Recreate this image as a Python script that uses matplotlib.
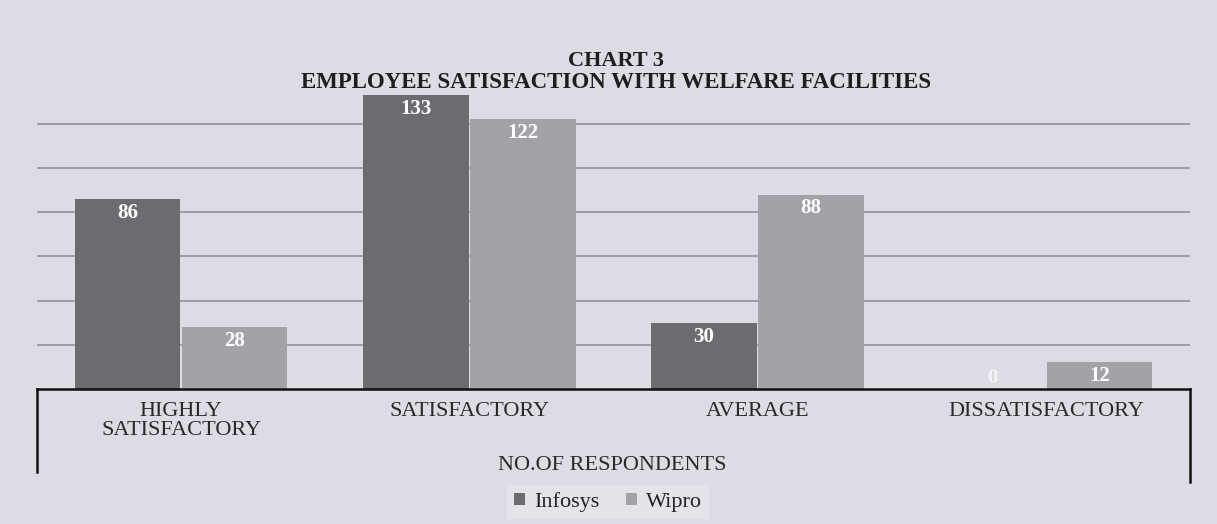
import matplotlib
matplotlib.use("Agg")
import matplotlib.pyplot as plt
from matplotlib.lines import Line2D
import numpy as np

categories = ["HIGHLY\nSATISFACTORY", "SATISFACTORY", "AVERAGE", "DISSATISFACTORY"]
infosys = [86, 133, 30, 0]
wipro = [28, 122, 88, 12]
series_names = ["Infosys", "Wipro"]

W, H = 1217, 524
plt.rcParams['font.family'] = ['Liberation Serif', 'DejaVu Serif']

bg = '#dcdce4'
c_inf = '#6b6b70'
c_wip = '#a2a2a8'

fig = plt.figure(figsize=(W / 100, H / 100), dpi=100, facecolor=bg)

def fx(px):
    return px / W

def fy(py):
    return 1 - py / H

left, right = 37, 1190
base, top_px = 389, 389 - 2.21 * 140
ax = fig.add_axes([fx(left), fy(base), fx(right - left), (base - top_px) / H])
ax.set_facecolor('none')

x = np.arange(len(categories))
bw = 0.366
off = 0.186
b1 = ax.bar(x - off, infosys, bw, color=c_inf, label=series_names[0], zorder=3)
b2 = ax.bar(x + off, wipro, bw, color=c_wip, label=series_names[1], zorder=3)

ax.set_xlim(-0.5, len(categories) - 0.5)
ax.set_ylim(0, 140)
ax.set_yticks([20, 40, 60, 80, 100, 120])
ax.yaxis.grid(True, color='#8c8c94', linewidth=1.1, zorder=1)
ax.tick_params(axis='y', left=False, labelleft=False)
for s in ['top', 'right', 'left']:
    ax.spines[s].set_visible(False)
ax.spines['bottom'].set_color('#111111')
ax.spines['bottom'].set_linewidth(1.8)
ax.spines['bottom'].set_zorder(4)

ax.set_xticks(x)
ax.set_xticklabels(categories, fontsize=16, color='#2a2a2a', linespacing=1.02)
ax.tick_params(axis='x', length=0, pad=9)

for bars, vals in ((b1, infosys), (b2, wipro)):
    for rect, v in zip(bars, vals):
        cx = rect.get_x() + rect.get_width() / 2
        if v >= 10:
            ax.annotate(str(v), (cx, v), xytext=(0, -10), textcoords='offset points',
                        ha='center', va='center', color='white', fontsize=15,
                        fontweight='bold', zorder=5)
        else:
            ax.annotate(str(v), (cx, v), xytext=(0, 8), textcoords='offset points',
                        ha='center', va='center', color='#f4f4f8', fontsize=15,
                        fontweight='bold', zorder=5)

# box around category axis area
fig.add_artist(Line2D([fx(left), fx(left)], [fy(base), fy(472)], color='#111111', linewidth=1.8))
fig.add_artist(Line2D([fx(right), fx(right)], [fy(base), fy(482)], color='#111111', linewidth=1.8))

fig.text(fx(616), fy(61), "CHART 3", ha='center', va='center', fontsize=16,
         fontweight='bold', color='#1e1e1e')
fig.text(fx(616), fy(82), "EMPLOYEE SATISFACTION WITH WELFARE FACILITIES", ha='center',
         va='center', fontsize=16.5, fontweight='bold', color='#1e1e1e')
fig.text(fx(612), fy(466), "NO.OF RESPONDENTS", ha='center', va='center', fontsize=16,
         color='#2a2a2a')

leg = fig.legend(loc='center', bbox_to_anchor=(fx(608), fy(502)), ncol=2, frameon=True,
                 fontsize=16, handlelength=0.5, handleheight=0.5, handletextpad=0.4,
                 columnspacing=1.2, borderpad=0.3, borderaxespad=0, fancybox=False)
leg.get_frame().set_facecolor('#e6e6ec')
leg.get_frame().set_edgecolor('none')
for t in leg.get_texts():
    t.set_color('#222222')

fig.savefig("out.png", dpi=100, facecolor=bg)
